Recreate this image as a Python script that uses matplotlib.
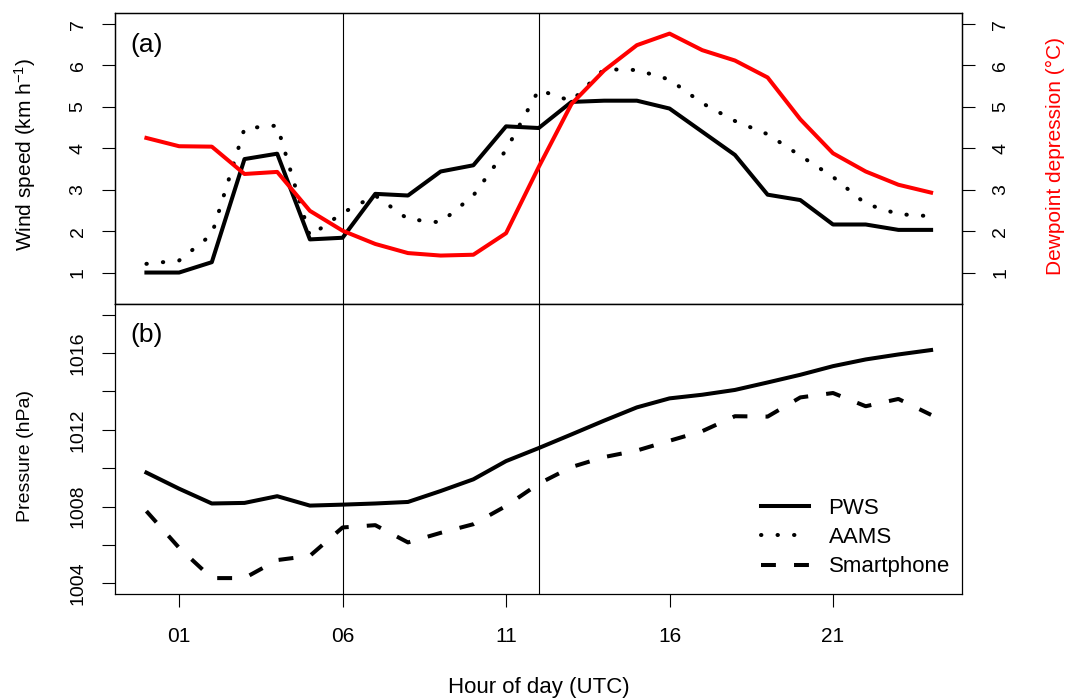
import matplotlib
matplotlib.use("Agg")
import matplotlib.pyplot as plt

plt.rcParams['font.family'] = ['Liberation Sans', 'DejaVu Sans']
plt.rcParams['mathtext.fontset'] = 'custom'
plt.rcParams['mathtext.rm'] = 'Liberation Sans'
plt.rcParams['mathtext.it'] = 'Liberation Sans:italic'

# hourly values, 00 .. 24 UTC
hours = list(range(25))
hour_ticks = [1, 6, 11, 16, 21]
hour_labels = ['01', '06', '11', '16', '21']
split_hours = [6, 12]

wind_pws = [1.00, 1.00, 1.25, 3.74, 3.87, 1.80, 1.84, 2.90, 2.86, 3.44, 3.59, 4.53, 4.49,
            5.12, 5.15, 5.15, 4.96, 4.40, 3.84, 2.88, 2.75, 2.16, 2.16, 2.03, 2.03]
wind_aams = [1.21, 1.29, 1.92, 4.48, 4.55, 1.88, 2.44, 2.86, 2.29, 2.21, 2.86, 3.96, 5.41,
             5.14, 5.91, 5.89, 5.66, 5.09, 4.66, 4.34, 3.82, 3.31, 2.66, 2.41, 2.36]
dewpoint_dep = [4.25, 4.05, 4.04, 3.38, 3.43, 2.49, 2.01, 1.69, 1.47, 1.41, 1.43, 1.95, 3.55,
                5.07, 5.88, 6.49, 6.77, 6.37, 6.12, 5.71, 4.70, 3.88, 3.44, 3.12, 2.93]

pres_pws = [1009.77, 1008.93, 1008.16, 1008.19, 1008.54, 1008.05, 1008.10, 1008.16, 1008.24,
            1008.81, 1009.42, 1010.37, 1011.05, 1011.76, 1012.48, 1013.17, 1013.64, 1013.83,
            1014.08, 1014.47, 1014.87, 1015.32, 1015.67, 1015.93, 1016.16]
pres_phone = [1007.76, 1005.85, 1004.27, 1004.27, 1005.21, 1005.43, 1006.91, 1007.03, 1006.13,
              1006.63, 1007.08, 1008.03, 1009.19, 1010.06, 1010.58, 1010.92, 1011.43, 1011.93,
              1012.71, 1012.69, 1013.69, 1013.92, 1013.23, 1013.61, 1012.78]

wind_ticks = [1, 2, 3, 4, 5, 6, 7]
pres_ticks = [1004, 1006, 1008, 1010, 1012, 1014, 1016, 1018]
pres_labels = ['1004', '', '1008', '', '1012', '', '1016', '']

lw = 2.9
dotted = (0, (0.1, 4.0))
dashed = (0, (3.7, 4.5))

fig = plt.figure(figsize=(10.68, 7.0), dpi=100)
ax1 = fig.add_axes([0.1077, 0.5657, 0.7935, 0.4153])
ax2 = fig.add_axes([0.1077, 0.1514, 0.7935, 0.4143])

# panel (a)
ax1.plot(hours, wind_pws, color='black', lw=lw, solid_joinstyle='round')
ax1.plot(hours, wind_aams, color='black', lw=lw, linestyle=dotted, dash_capstyle='round')
for h in split_hours:
    ax1.axvline(h, color='black', lw=0.8)
ax1.set_xlim(-0.96, 24.96)
ax1.set_ylim(0.24, 7.26)
ax1.set_yticks(wind_ticks)
ax1.tick_params(axis='x', bottom=False, labelbottom=False)
ax1.tick_params(axis='y', length=9.5, width=0.8, labelsize=14, pad=11, labelrotation=90)
for lab in ax1.get_yticklabels():
    lab.set_va('center')
ax1.text(0.0177, 0.89, '(a)', transform=ax1.transAxes, fontsize=19, ha='left', va='center')

ax1r = ax1.twinx()
ax1r.plot(hours, dewpoint_dep, color='#ff0000', lw=lw, solid_joinstyle='round')
ax1r.set_ylim(0.24, 7.26)
ax1r.set_yticks(wind_ticks)
ax1r.tick_params(axis='y', length=9.5, width=0.8, labelsize=14, pad=12, labelrotation=90)
for lab in ax1r.get_yticklabels():
    lab.set_va('center')

# panel (b)
ax2.plot(hours, pres_pws, color='black', lw=lw, solid_joinstyle='round', label='PWS')
ax2.plot([], [], color='black', lw=lw, linestyle=dotted, dash_capstyle='round', label='AAMS')
ax2.plot(hours, pres_phone, color='black', lw=lw, linestyle=dashed, dash_capstyle='butt',
         label='Smartphone')
for h in split_hours:
    ax2.axvline(h, color='black', lw=0.8)
ax2.set_xlim(-0.96, 24.96)
ax2.set_ylim(1003.44, 1018.56)
ax2.set_yticks(pres_ticks)
ax2.set_yticklabels(pres_labels)
ax2.set_xticks(hour_ticks)
ax2.set_xticklabels(hour_labels)
ax2.tick_params(axis='x', length=9.5, width=0.8, labelsize=15, pad=14)
ax2.tick_params(axis='y', length=9.5, width=0.8, labelsize=14, pad=11, labelrotation=90)
for lab in ax2.get_yticklabels():
    lab.set_va('center')
ax2.text(0.0177, 0.893, '(b)', transform=ax2.transAxes, fontsize=19, ha='left', va='center')
ax2.legend(loc='lower right', bbox_to_anchor=(0.985, 0.057), frameon=False, fontsize=16,
           handlelength=2.15, handletextpad=0.9, labelspacing=0.38, borderpad=0,
           borderaxespad=0)

for ax in (ax1, ax1r, ax2):
    for sp in ax.spines.values():
        sp.set_linewidth(0.9)

fig.text(25 / 1068, 1 - 154 / 700, 'Wind speed (km h$^{-1}$)', rotation=90,
         ha='center', va='center', fontsize=15)
fig.text(25 / 1068, 1 - 456 / 700, 'Pressure (hPa)', rotation=90,
         ha='center', va='center', fontsize=14)
fig.text(1055 / 1068, 1 - 156 / 700, 'Dewpoint depression (°C)', rotation=90,
         ha='center', va='center', fontsize=15, color='#ff0000')
fig.text(538.5 / 1068, 1 - 688 / 700, 'Hour of day (UTC)', ha='center', va='center',
         fontsize=16)

fig.savefig('out.png', dpi=100)
